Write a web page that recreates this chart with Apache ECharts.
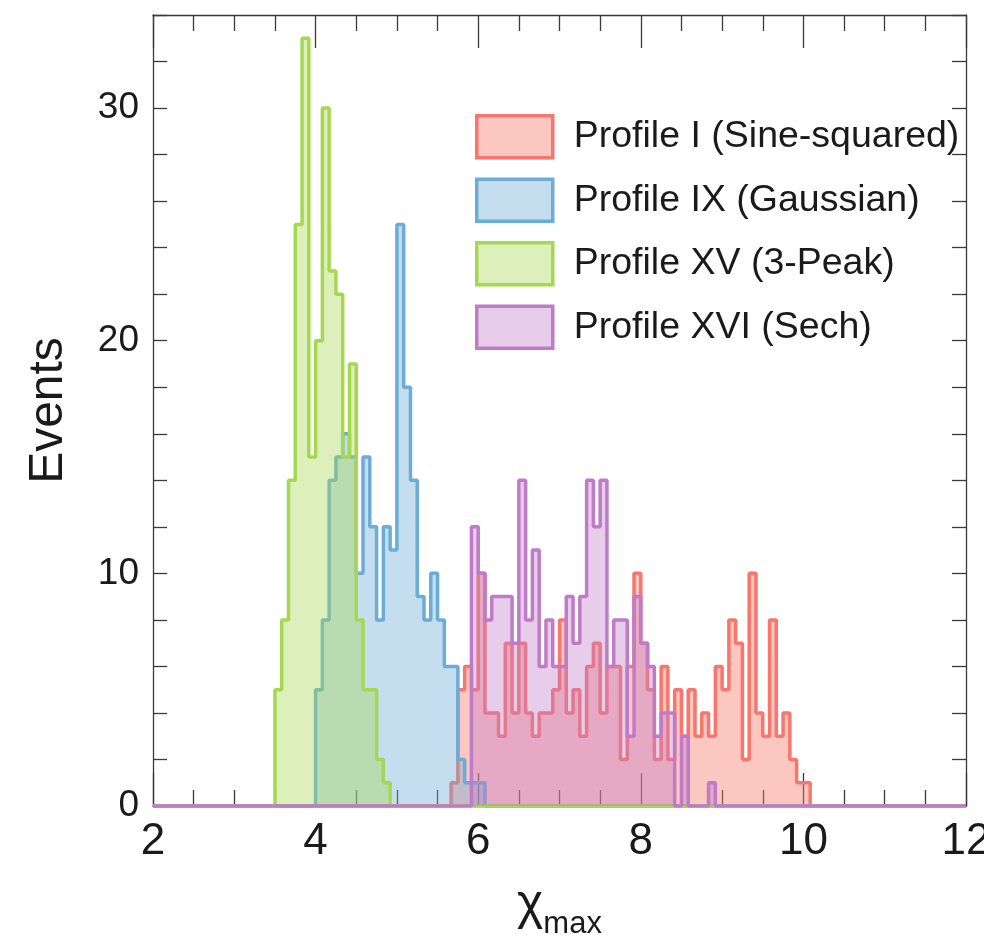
<!DOCTYPE html>
<html>
<head>
<meta charset="utf-8">
<script src="https://cdn.jsdelivr.net/npm/echarts@6/dist/echarts.min.js"></script>
<style>
  html, body { margin: 0; padding: 0; background: #fff; }
  #chart { width: 984px; height: 938px; }
</style>
</head>
<body>
<div id="chart"></div>
<script>
// histogram binning: 120 bins of width 1/12 between 2 and 12
const xMin = 2;
const xMax = 12;
const nBins = 120;

// bin counts, each list starts at the given bin index
const sineStart = 44;
const sineCounts = [1, 5, 6, 5, 10, 4, 4, 3, 7, 4, 7, 4, 3, 4, 4, 5, 8, 4, 5, 3,
  6, 7, 4, 6, 6, 2, 6, 10, 7, 5, 2, 6, 2, 5, 3, 5, 3, 4, 3, 6, 5, 8, 7, 2, 10,
  4, 3, 8, 3, 4, 2, 1, 1];

const gaussStart = 24;
const gaussCounts = [5, 8, 14, 15, 16, 15, 10, 15, 12, 8, 12, 11, 25, 18, 14, 9,
  8, 10, 8, 6, 6, 2, 1, 1, 1];

const peak3Start = 18;
const peak3Counts = [5, 8, 14, 25, 33, 15, 20, 30, 23, 22, 15, 19, 8, 5, 5, 2, 1];

const sechStart = 47;
const sechCounts = [12, 10, 8, 9, 9, 9, 7, 14, 8, 11, 6, 8, 6, 6, 9, 7, 9, 14, 12,
  14, 6, 8, 8, 3, 9, 7, 6, 3, 4, 4, 0, 3, 0, 0, 0, 1];

const seriesNames = ['Profile I (Sine-squared)', 'Profile IX (Gaussian)', 'Profile XV (3-Peak)', 'Profile XVI (Sech)'];
const yTicks = [0, 10, 20, 30];

const lineColors = ['#f8766b', '#6badd6', '#a6d750', '#bf7bc8'];
const fillColors = ['rgba(248,118,107,0.42)', 'rgba(107,173,214,0.40)', 'rgba(166,215,80,0.38)', 'rgba(191,123,200,0.38)'];

function histPoints(start, counts) {
  const pts = [];
  for (let k = 0; k < nBins; k++) {
    const i = k - start;
    const v = i >= 0 && i < counts.length ? counts[i] : 0;
    pts.push([xMin + k * (xMax - xMin) / nBins, v]);
  }
  pts.push([xMax, 0]);
  return pts;
}

const hists = [
  histPoints(sineStart, sineCounts),
  histPoints(gaussStart, gaussCounts),
  histPoints(peak3Start, peak3Counts),
  histPoints(sechStart, sechCounts)
];

const chart = echarts.init(document.getElementById('chart'), null, { renderer: 'canvas' });

const frameColor = '#3a3a3a';
const sans = '"Liberation Sans", Arial, Helvetica, sans-serif';
const textColor = '#1a1a1a';

const xAxisBase = {
  type: 'value',
  min: xMin,
  max: xMax,
  interval: 2,
  splitLine: { show: false },
  axisLine: { onZero: false, lineStyle: { color: frameColor, width: 1.3 } },
  axisTick: { inside: true, length: 33, lineStyle: { color: frameColor, width: 1.3 } },
  minorTick: { show: true, splitNumber: 4, length: 16, lineStyle: { color: frameColor, width: 1.3 } }
};

const yAxisBase = {
  type: 'value',
  min: 0,
  max: 34,
  interval: 2,
  splitLine: { show: false },
  axisLine: { show: true, onZero: false, lineStyle: { color: frameColor, width: 1.3 } },
  axisTick: { show: true, inside: true, length: 14, lineStyle: { color: frameColor, width: 1.3 } }
};

const option = {
  backgroundColor: '#fff',
  animation: false,
  grid: { left: 153, right: 18, top: 15, bottom: 132, containLabel: false, outerBoundsMode: 'none' },
  legend: {
    orient: 'vertical',
    left: 475,
    top: 114,
    padding: 0,
    itemWidth: 76,
    itemHeight: 42,
    itemGap: 18,
    symbolKeepAspect: false,
    selectedMode: false,
    textStyle: { fontFamily: sans, fontSize: 37.5, lineHeight: 42, color: textColor, padding: [0, 0, 0, 16] },
    data: seriesNames.map((n, i) => ({
      name: n,
      icon: 'rect',
      itemStyle: { color: fillColors[i], borderColor: lineColors[i], borderWidth: 3.5 }
    }))
  },
  xAxis: [
    Object.assign({}, xAxisBase, {
      position: 'bottom',
      name: '{chi|χ}{sub|max}',
      nameLocation: 'middle',
      nameGap: 74,
      nameTextStyle: {
        rich: {
          chi: { fontFamily: sans, fontSize: 50, color: textColor, verticalAlign: 'bottom' },
          sub: { fontFamily: sans, fontSize: 31, color: textColor, verticalAlign: 'bottom', padding: [0, 0, -10, 0] }
        }
      },
      axisLabel: { margin: 14, fontFamily: sans, fontSize: 44, color: textColor }
    }),
    Object.assign({}, xAxisBase, {
      position: 'top',
      axisLabel: { show: false }
    })
  ],
  yAxis: [
    Object.assign({}, yAxisBase, {
      position: 'left',
      name: 'Events',
      nameLocation: 'middle',
      nameGap: 80,
      nameRotate: 90,
      nameTextStyle: { fontFamily: sans, fontSize: 48, color: textColor },
      axisLabel: {
        margin: 14,
        fontFamily: sans,
        fontSize: 37,
        color: textColor,
        formatter: (v) => (yTicks.indexOf(v) >= 0 ? String(v) : '')
      }
    }),
    Object.assign({}, yAxisBase, {
      position: 'right',
      axisLabel: { show: false }
    })
  ],
  series: hists.map((pts, i) => ({
    name: seriesNames[i],
    type: 'line',
    step: 'end',
    data: pts,
    symbol: 'none',
    silent: true,
    lineStyle: { color: lineColors[i], width: 3.5 },
    itemStyle: { color: lineColors[i] },
    areaStyle: { color: fillColors[i], opacity: 1, origin: 'start' },
    z: 2 + i
  }))
};

chart.setOption(option);
window.addEventListener('resize', () => chart.resize());
</script>
</body>
</html>
